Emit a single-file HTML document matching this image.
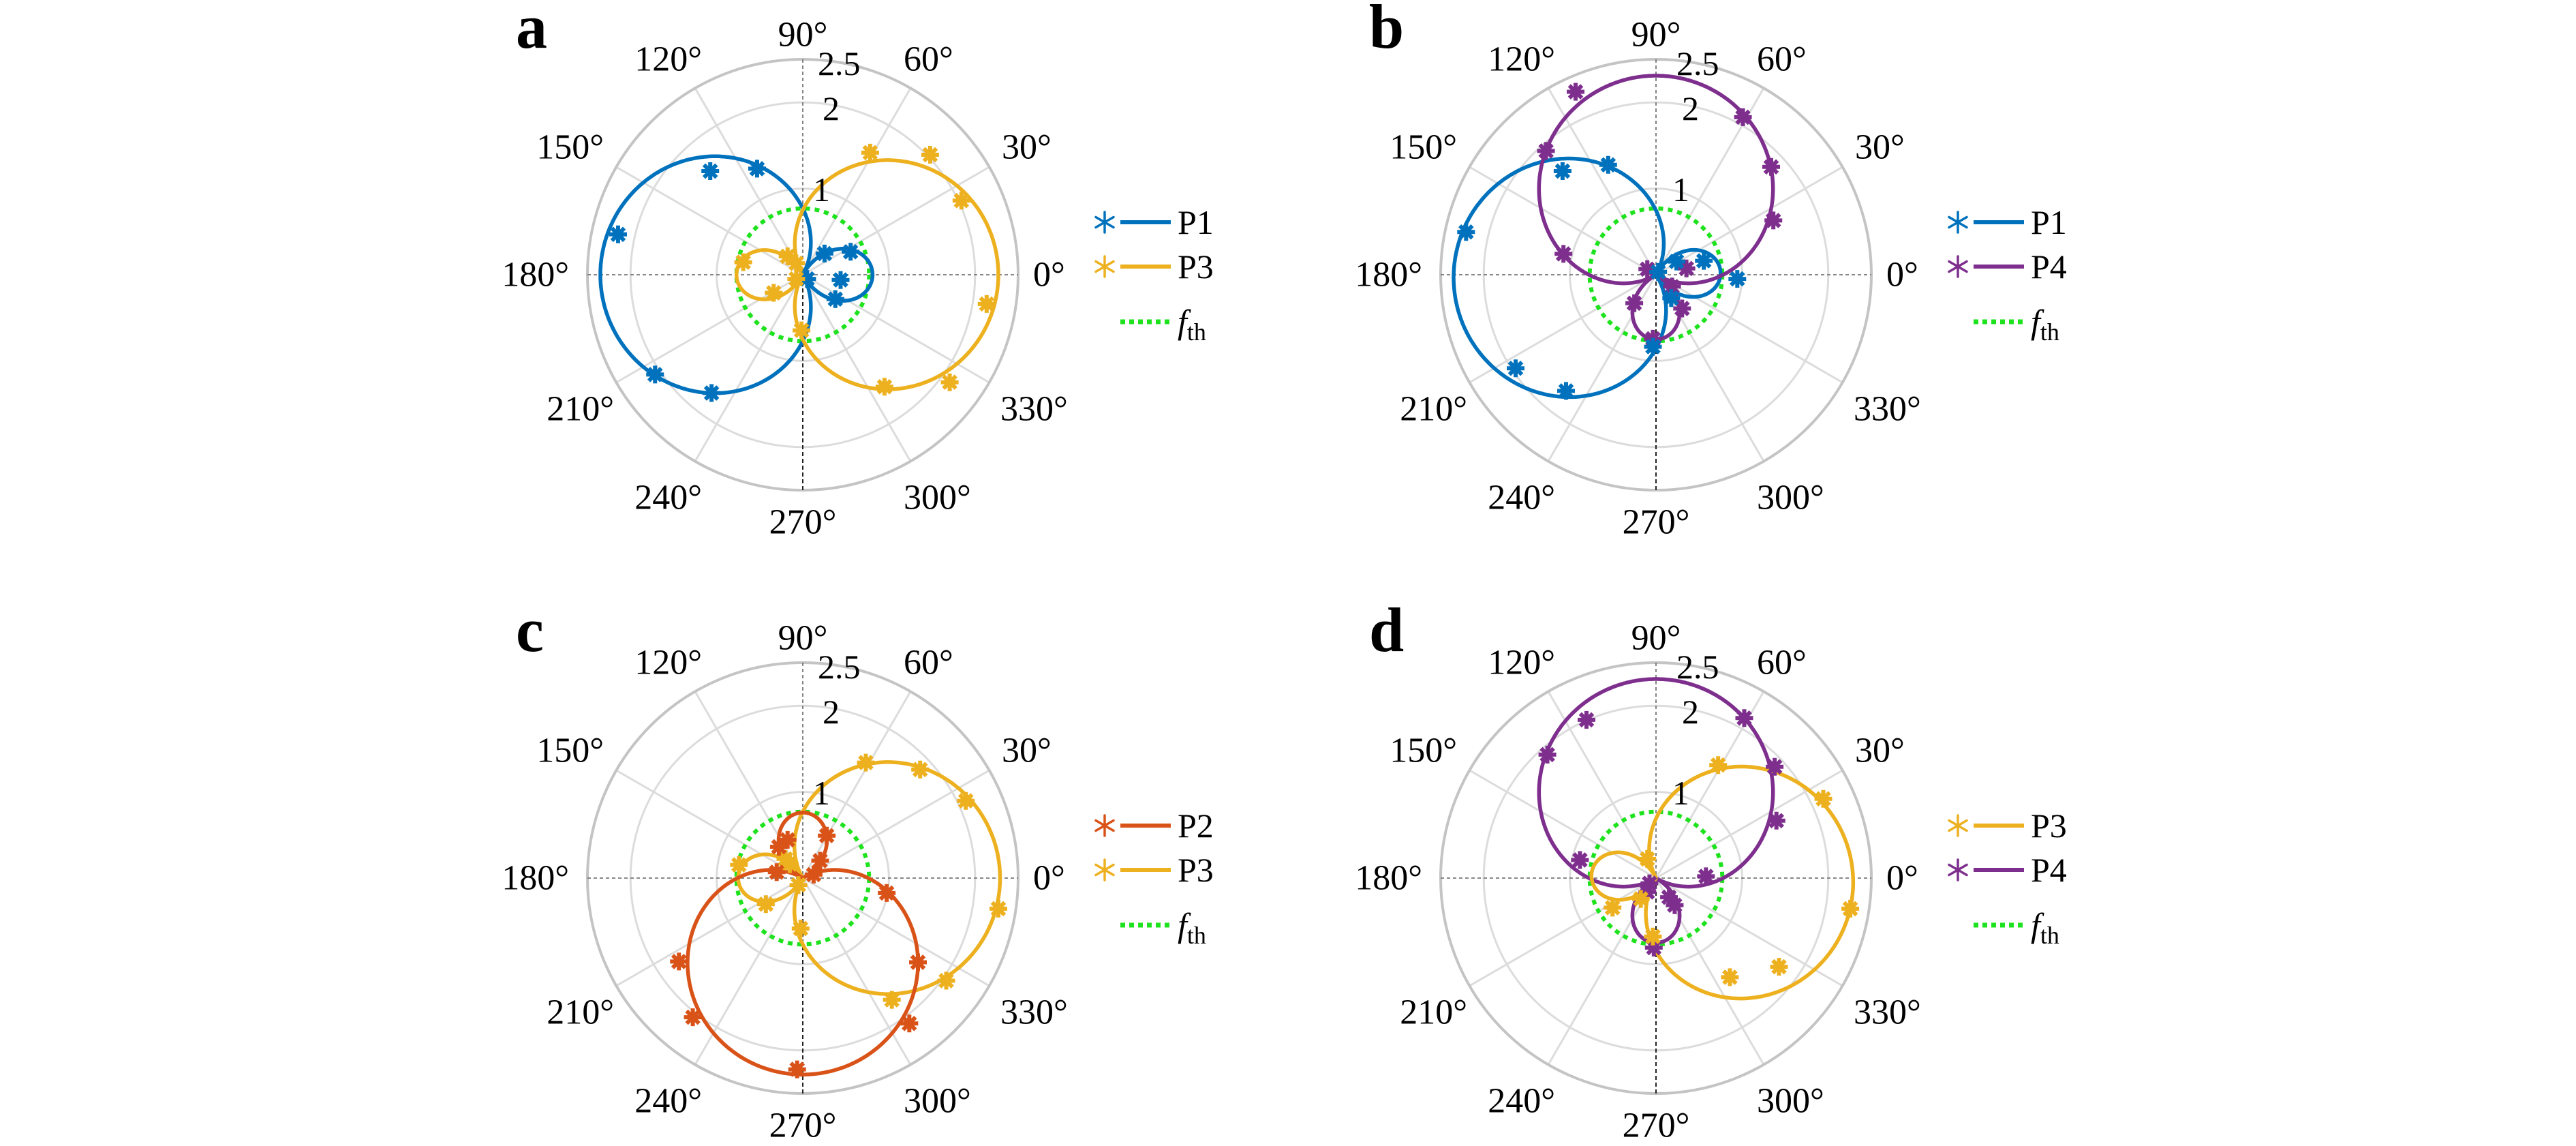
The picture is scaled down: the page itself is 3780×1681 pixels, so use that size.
<!DOCTYPE html>
<html><head><meta charset="utf-8">
<style>
html,body{margin:0;padding:0;background:#fff;}
svg{display:block;}
text{font-family:"Liberation Serif",serif;fill:#000;}
.ang{font-size:52px;text-anchor:middle;dominant-baseline:central;}
.ang.s{text-anchor:start;}
.ang.e{text-anchor:end;}
.rl{font-size:50px;}
.lg{font-size:50px;}
.let{font-size:92px;font-weight:bold;}
</style></head>
<body>
<svg id="s" width="3780" height="1681" viewBox="0 0 3780 1681" xmlns="http://www.w3.org/2000/svg">
<g id="grid"></g>
<g id="curves"></g>
<!-- Panel a -->
<g transform="translate(1178,403)">
<text class="let" x="-421" y="-333">a</text>
<text class="ang" x="0" y="-352">90°</text>
<text class="ang s" x="148" y="-316">60°</text>
<text class="ang s" x="292" y="-187">30°</text>
<text class="ang s" x="338" y="0">0°</text>
<text class="ang e" x="-148" y="-316">120°</text>
<text class="ang e" x="-292" y="-187">150°</text>
<text class="ang e" x="-343" y="0">180°</text>
<text class="ang e" x="-277" y="197">210°</text>
<text class="ang e" x="-148" y="327">240°</text>
<text class="ang" x="0" y="363">270°</text>
<text class="ang s" x="148" y="327">300°</text>
<text class="ang s" x="290" y="197">330°</text>
<text class="rl" x="22" y="-293">2.5</text>
<text class="rl" x="29" y="-227">2</text>
<text class="rl" x="15" y="-108">1</text>
<text class="lg" x="550" y="-60">P1</text>
<text class="lg" x="550" y="5">P3</text>
<text class="lg" x="550" y="86"><tspan font-style="italic">f</tspan><tspan font-size="36" dy="10">th</tspan></text>
</g>
<!-- Panel b -->
<g transform="translate(2430,403)">
<text class="let" x="-421" y="-333">b</text>
<text class="ang" x="0" y="-352">90°</text>
<text class="ang s" x="148" y="-316">60°</text>
<text class="ang s" x="292" y="-187">30°</text>
<text class="ang s" x="338" y="0">0°</text>
<text class="ang e" x="-148" y="-316">120°</text>
<text class="ang e" x="-292" y="-187">150°</text>
<text class="ang e" x="-343" y="0">180°</text>
<text class="ang e" x="-277" y="197">210°</text>
<text class="ang e" x="-148" y="327">240°</text>
<text class="ang" x="0" y="363">270°</text>
<text class="ang s" x="148" y="327">300°</text>
<text class="ang s" x="290" y="197">330°</text>
<text class="rl" x="30" y="-293">2.5</text>
<text class="rl" x="38" y="-227">2</text>
<text class="rl" x="24" y="-108">1</text>
<text class="lg" x="550" y="-60">P1</text>
<text class="lg" x="550" y="5">P4</text>
<text class="lg" x="550" y="86"><tspan font-style="italic">f</tspan><tspan font-size="36" dy="10">th</tspan></text>
</g>
<!-- Panel c -->
<g transform="translate(1178,1288)">
<text class="let" x="-421" y="-333">c</text>
<text class="ang" x="0" y="-352">90°</text>
<text class="ang s" x="148" y="-316">60°</text>
<text class="ang s" x="292" y="-187">30°</text>
<text class="ang s" x="338" y="0">0°</text>
<text class="ang e" x="-148" y="-316">120°</text>
<text class="ang e" x="-292" y="-187">150°</text>
<text class="ang e" x="-343" y="0">180°</text>
<text class="ang e" x="-277" y="197">210°</text>
<text class="ang e" x="-148" y="327">240°</text>
<text class="ang" x="0" y="363">270°</text>
<text class="ang s" x="148" y="327">300°</text>
<text class="ang s" x="290" y="197">330°</text>
<text class="rl" x="22" y="-293">2.5</text>
<text class="rl" x="29" y="-227">2</text>
<text class="rl" x="15" y="-108">1</text>
<text class="lg" x="550" y="-60">P2</text>
<text class="lg" x="550" y="5">P3</text>
<text class="lg" x="550" y="86"><tspan font-style="italic">f</tspan><tspan font-size="36" dy="10">th</tspan></text>
</g>
<!-- Panel d -->
<g transform="translate(2430,1288)">
<text class="let" x="-421" y="-333">d</text>
<text class="ang" x="0" y="-352">90°</text>
<text class="ang s" x="148" y="-316">60°</text>
<text class="ang s" x="292" y="-187">30°</text>
<text class="ang s" x="338" y="0">0°</text>
<text class="ang e" x="-148" y="-316">120°</text>
<text class="ang e" x="-292" y="-187">150°</text>
<text class="ang e" x="-343" y="0">180°</text>
<text class="ang e" x="-277" y="197">210°</text>
<text class="ang e" x="-148" y="327">240°</text>
<text class="ang" x="0" y="363">270°</text>
<text class="ang s" x="148" y="327">300°</text>
<text class="ang s" x="290" y="197">330°</text>
<text class="rl" x="30" y="-293">2.5</text>
<text class="rl" x="38" y="-227">2</text>
<text class="rl" x="24" y="-108">1</text>
<text class="lg" x="550" y="-60">P3</text>
<text class="lg" x="550" y="5">P4</text>
<text class="lg" x="550" y="86"><tspan font-style="italic">f</tspan><tspan font-size="36" dy="10">th</tspan></text>
</g>
</svg>
<script>
(function(){
var NS="http://www.w3.org/2000/svg";
var U=126.4, R=316;
var C={b:"#0072BD",o:"#EDB120",r:"#D95319",p:"#7E2F8E",g:"#1de21d"};
var grid=document.getElementById("grid"), cv=document.getElementById("curves");
function el(p,t,a){var e=document.createElementNS(NS,t);for(var k in a)e.setAttribute(k,a[k]);p.appendChild(e);return e;}
function star(p,x,y,col){
  var d="";for(var i=0;i<4;i++){var a=i*Math.PI/4;var dx=13*Math.cos(a),dy=13*Math.sin(a);
  d+="M"+(x-dx).toFixed(1)+","+(y-dy).toFixed(1)+"L"+(x+dx).toFixed(1)+","+(y+dy).toFixed(1);}
  el(p,"path",{d:d,stroke:col,"stroke-width":6,"stroke-linecap":"butt",fill:"none"});
  el(p,"circle",{cx:x,cy:y,r:6,fill:col});
}
function lstar(p,x,y,col){
  var d="";for(var i=0;i<3;i++){var a=Math.PI/2+i*Math.PI/3;var dx=15*Math.cos(a),dy=15*Math.sin(a);
  d+="M"+(x-dx).toFixed(1)+","+(y-dy).toFixed(1)+"L"+(x+dx).toFixed(1)+","+(y+dy).toFixed(1);}
  el(p,"path",{d:d,stroke:col,"stroke-width":3.5,fill:"none","stroke-linecap":"round"});
}
function curve(p,cx,cy,th0,a,b,col){
  var d="";for(var i=0;i<=720;i++){var t=i/720*2*Math.PI;var r=Math.abs(b+a*Math.cos(t-th0*Math.PI/180))*U;
  var x=cx+r*Math.cos(t),y=cy-r*Math.sin(t);d+=(i?"L":"M")+x.toFixed(1)+","+y.toFixed(1);}
  el(p,"path",{d:d,stroke:col,"stroke-width":5.5,fill:"none","stroke-linejoin":"round"});
}
var panels=[
 {cx:1178,cy:403,zc:[435,788],leg:[C.b,C.o],
  cur:[[180,1.58,0.77,C.b],[0,1.52,0.75,C.o]],
  mk:[[C.b,[[222,490],[330,483],[10,672],[95,1075],[225,1128],[485,727],[545,722],[522,803],[510,858],[445,800]]],
      [C.o,[[590,437],[728,443],[800,575],[858,872],[773,1097],[623,1110],[298,752],[368,840],[400,735],[420,755],[432,948],[420,800]]]]},
 {cx:2430,cy:403,zc:[675,788],leg:[C.b,C.p],
  cur:[[182,1.55,0.8,C.b],[90,1.53,0.78,C.p]],
  mk:[[C.p,[[490,262],[875,335],[422,432],[940,478],[945,632],[462,728],[655,772],[625,870],[668,972],[735,885],[712,822],[745,770]]],
      [C.b,[[460,490],[565,472],[238,665],[352,1057],[468,1122],[722,750],[785,748],[862,800],[668,995],[710,855],[680,780]]]]},
 {cx:1178,cy:1288,zc:[435,800],leg:[C.r,C.o],
  cur:[[0,1.52,0.77,C.o],[270,1.52,0.76,C.r]],
  mk:[[C.o,[[580,468],[705,488],[810,578],[885,888],[765,1095],[640,1150],[288,762],[350,875],[395,745],[430,945],[425,820],[405,760]]],
      [C.r,[[150,1040],[182,1200],[422,1350],[680,1218],[700,1042],[628,843],[380,710],[400,690],[490,678],[475,750],[460,790],[375,783]]]]},
 {cx:2430,cy:1288,zc:[675,800],leg:[C.o,C.p],
  cur:[[90,1.53,0.78,C.p],[-3,1.52,0.77,C.o]],
  mk:[[C.p,[[515,345],[878,340],[425,445],[948,480],[952,635],[500,748],[655,840],[670,1000],[705,855],[718,878],[790,795],[660,815]]],
      [C.o,[[818,475],[1060,572],[1122,888],[958,1055],[845,1085],[668,968],[655,745],[575,885],[640,860]]]]}
];
panels.forEach(function(P){
  var cx=P.cx,cy=P.cy;
  for(var k=0;k<12;k++){ if(k%3==0) continue; var a=k*Math.PI/6;
    el(grid,"line",{x1:cx,y1:cy,x2:cx+R*Math.cos(a),y2:cy-R*Math.sin(a),stroke:"#dcdcdc","stroke-width":3});}
  [U,2*U].forEach(function(r){el(grid,"circle",{cx:cx,cy:cy,r:r,fill:"none",stroke:"#dcdcdc","stroke-width":3});});
  el(grid,"circle",{cx:cx,cy:cy,r:R,fill:"none",stroke:"#c4c4c4","stroke-width":4});
  el(grid,"line",{x1:cx-R,y1:cy,x2:cx+R,y2:cy,stroke:"#777","stroke-width":1.8,"stroke-dasharray":"5 4"});
  el(grid,"line",{x1:cx,y1:cy-R,x2:cx,y2:cy,stroke:"#777","stroke-width":1.8,"stroke-dasharray":"5 4"});
  el(grid,"line",{x1:cx,y1:cy,x2:cx,y2:cy+R,stroke:"#222","stroke-width":2,"stroke-dasharray":"6 4"});
  el(cv,"circle",{cx:cx,cy:cy,r:0.77*U,fill:"none",stroke:C.g,"stroke-width":6,"stroke-dasharray":"7 7"});
  P.cur.forEach(function(c){curve(cv,cx,cy,c[0],c[1],c[2],c[3]);});
  P.mk.forEach(function(m){m[1].forEach(function(z){
    var x=cx+(z[0]-P.zc[0])/1.568, y=cy+(z[1]-P.zc[1])/1.96; star(cv,x,y,m[0]);});});
  var L=[[-77,P.leg[0]],[-12,P.leg[1]]];
  L.forEach(function(l){lstar(cv,cx+443,cy+l[0],l[1]);
    el(cv,"line",{x1:cx+466,y1:cy+l[0],x2:cx+540,y2:cy+l[0],stroke:l[1],"stroke-width":6});});
  el(cv,"line",{x1:cx+466,y1:cy+69,x2:cx+540,y2:cy+69,stroke:C.g,"stroke-width":7,"stroke-dasharray":"7 6"});
});
})();
</script>
</body></html>
